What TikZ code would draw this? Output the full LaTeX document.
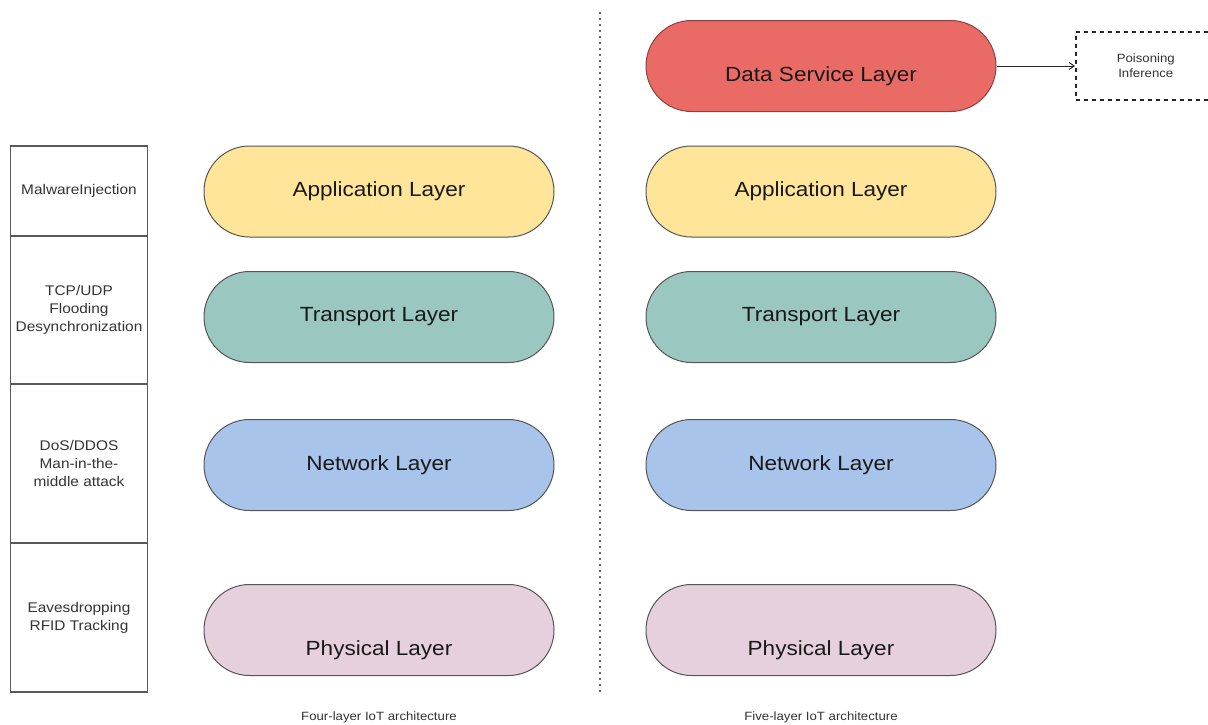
\documentclass[tikz,border=0pt]{standalone}
\usepackage{fontspec}
\setmainfont{Liberation Sans}[FakeStretch=1.1]
\usetikzlibrary{arrows.meta}
\definecolor{dsred}{HTML}{EA6B66}
\definecolor{dsredline}{HTML}{8A4240}
\definecolor{appyel}{HTML}{FFE599}
\definecolor{trgreen}{HTML}{9AC7BF}
\definecolor{nwblue}{HTML}{A9C4EB}
\definecolor{phpink}{HTML}{E6D0DE}
\definecolor{pillline}{HTML}{555555}
\begin{document}
\begin{tikzpicture}[x=1pt,y=-1pt,
  pill/.style={draw=pillline, line width=1pt, rounded corners=45.5pt,
    minimum width=350pt, minimum height=91pt, inner sep=0pt,
    font=\fontsize{20.5}{24}\selectfont, text=black!90},
  cell/.style={draw=black!65, line width=1.1pt, minimum width=137pt, inner sep=0pt,
    align=center, font=\fontsize{14}{18}\selectfont, text=black!80},
  caplabel/.style={font=\fontsize{12}{14}\selectfont, text=black!80}]
\useasboundingbox (0,0) rectangle (1208,724);
% left attack table
\node[cell, minimum height=90pt] (c1) at (79,191) {MalwareInjection};
\node[cell, minimum height=148pt] (c2) at (79,310) {TCP/UDP\\Flooding\\Desynchronization};
\node[cell, minimum height=159pt] (c3) at (79,463.5) {DoS/DDOS\\Man-in-the-\\middle attack};
\node[cell, minimum height=149pt] (c4) at (79,617.5) {Eavesdropping\\RFID Tracking};
% four-layer
\node[pill, fill=appyel] (a4) at (379,191.5) {Application Layer};
\node[pill, fill=trgreen] (t4) at (379,317) {Transport Layer};
\node[pill, fill=nwblue] (n4) at (379,465) {Network Layer};
\node[pill, fill=phpink] (p4) at (379,630) {\raisebox{-25pt}[0pt][0pt]{Physical Layer}};
\node[caplabel] (l4) at (379,717) {Four-layer IoT architecture};
% divider
\coordinate (dtop) at (600,12);
\coordinate (dbot) at (600,694);
\draw[black!60, line width=1.2pt, dash pattern=on 1.5pt off 4.5pt] (dtop) -- (dbot);
% five-layer
\node[pill, fill=dsred, draw=dsredline] (d5) at (821,66) {\raisebox{-15pt}[0pt][0pt]{Data Service Layer}};
\node[pill, fill=appyel] (a5) at (821,191.5) {Application Layer};
\node[pill, fill=trgreen] (t5) at (821,317) {Transport Layer};
\node[pill, fill=nwblue] (n5) at (821,465) {Network Layer};
\node[pill, fill=phpink] (p5) at (821,630) {\raisebox{-25pt}[0pt][0pt]{Physical Layer}};
\node[caplabel] (l5) at (821,717) {Five-layer IoT architecture};
% poisoning box
\node[draw=black!85, line width=1.6pt, dash pattern=on 4pt off 4pt, minimum width=140pt,
  minimum height=68pt, anchor=west, align=center, font=\fontsize{12}{15}\selectfont,
  text=black!80, text width=100pt] (pb) at (1075,66) {Poisoning\\Inference};
\draw[-{Straight Barb[length=5pt,width=7pt]}, black!85, line width=1pt] (d5.east) -- (pb.west);
\end{tikzpicture}
\end{document}
